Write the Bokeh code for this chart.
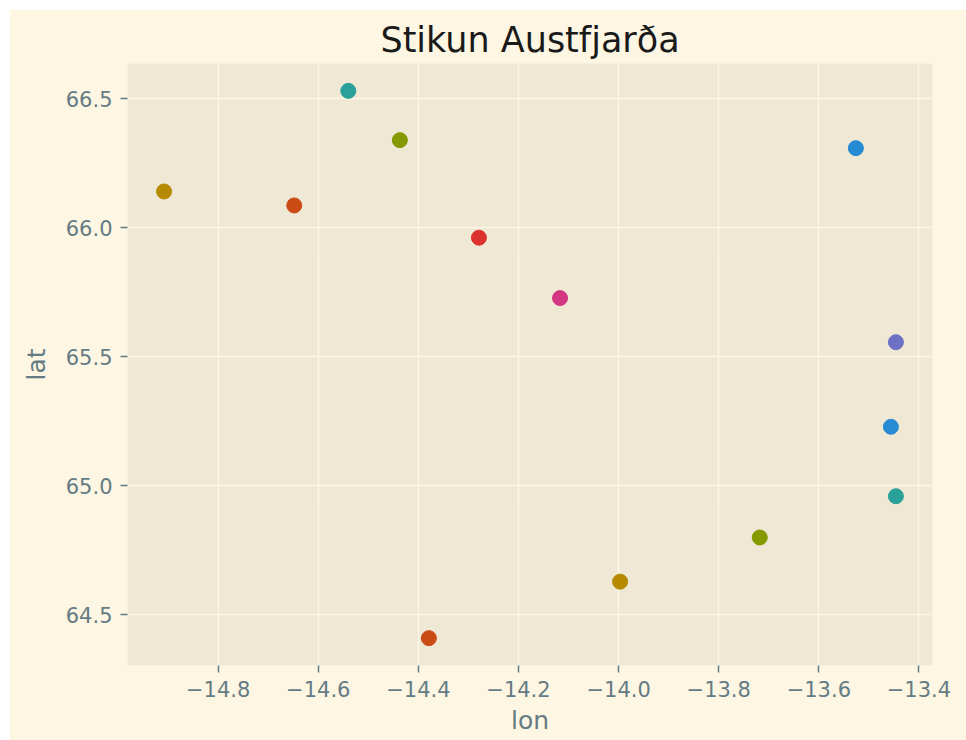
from bokeh.plotting import figure
from bokeh.models import ColumnDataSource, Range1d, FixedTicker, CustomJSTickFormatter
from bokeh.embed import file_html
from bokeh.resources import INLINE

# data
lon = [-13.526, -14.540, -14.437, -14.908, -14.648, -14.279, -14.117,
       -13.446, -13.456, -13.446, -13.718, -13.997, -14.379]
lat = [66.309, 66.531, 66.340, 66.141, 66.087, 65.962, 65.728,
       65.557, 65.229, 64.960, 64.800, 64.629, 64.410]
x_ticks = [-14.8, -14.6, -14.4, -14.2, -14.0, -13.8, -13.6, -13.4]
y_ticks = [64.5, 65.0, 65.5, 66.0, 66.5]
title_text = "Stikun Austfjarða"

palette = ["#268BD2", "#2AA198", "#859900", "#B58900",
           "#CB4B16", "#DC322F", "#D33682", "#6C71C4"]
colors = [palette[i % len(palette)] for i in range(len(lon))]

def padded(vals, frac=0.05):
    lo, hi = min(vals), max(vals)
    d = (hi - lo) * frac
    return lo - d, hi + d

xr = padded(lon)
yr = padded(lat)

FONT = "DejaVu Sans"
TXT = "#657B83"

p = figure(width=957, height=731, output_backend="svg", toolbar_location=None,
           x_range=Range1d(*xr), y_range=Range1d(*yr),
           min_border_left=118, min_border_right=34,
           min_border_top=54, min_border_bottom=75,
           margin=(9, 0, 0, 9))

p.background_fill_color = "#EEE8D5"
p.border_fill_color = "#FDF6E3"
p.outline_line_color = None

p.title.text = title_text
p.title.align = "center"
p.title.text_font = FONT
p.title.text_font_size = "35px"
p.title.text_font_style = "normal"
p.title.text_color = "#1a1a1a"
p.title.standoff = 8

src = ColumnDataSource(dict(lon=lon, lat=lat, color=colors))
p.scatter("lon", "lat", source=src, size=15, fill_color="color", line_color="color")

fmt = CustomJSTickFormatter(code="return tick.toFixed(1).replace('-', '\u2212');")

p.xaxis.ticker = FixedTicker(ticks=x_ticks)
p.yaxis.ticker = FixedTicker(ticks=y_ticks)
p.xaxis.formatter = fmt
p.yaxis.formatter = fmt
p.xaxis.axis_label = "lon"
p.yaxis.axis_label = "lat"

for ax in (p.xaxis[0], p.yaxis[0]):
    ax.axis_line_color = None
    ax.major_tick_line_color = TXT
    ax.major_tick_line_width = 1.5
    ax.major_tick_out = 7
    ax.major_tick_in = 0
    ax.minor_tick_line_color = None
    ax.major_label_text_font = FONT
    ax.major_label_text_font_size = "21px"
    ax.major_label_text_color = TXT
    ax.axis_label_text_font = FONT
    ax.axis_label_text_font_size = "25px"
    ax.axis_label_text_font_style = "normal"
    ax.axis_label_text_color = TXT
    ax.major_label_standoff = 8

p.xaxis[0].axis_label_standoff = 6
p.yaxis[0].axis_label_standoff = 12

p.xgrid.grid_line_color = "#FDF6E3"
p.ygrid.grid_line_color = "#FDF6E3"
p.xgrid.grid_line_width = 1.5
p.ygrid.grid_line_width = 1.5

open("out.html", "w").write(file_html(p, INLINE))
